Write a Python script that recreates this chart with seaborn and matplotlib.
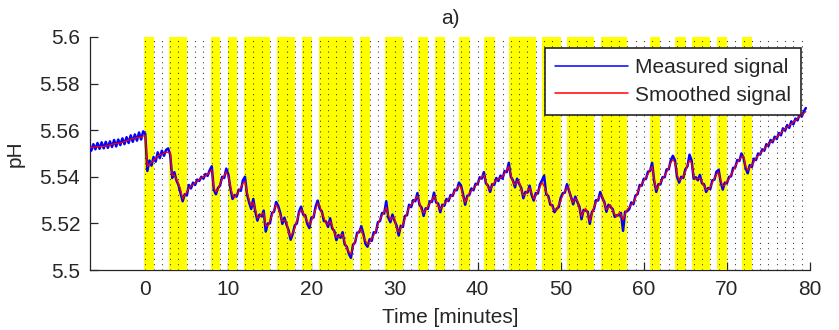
import numpy as np
import pandas as pd
import matplotlib
matplotlib.use("Agg")
import matplotlib.pyplot as plt
import seaborn as sns

# ---------------- data ----------------
t_start = -6.75      # first sample [minutes]
t_step = 0.25        # sampling step [minutes]

measured = [
    # -6.75 .. 0.0
    5.5535, 5.5512, 5.5540, 5.5518, 5.5545, 5.5520, 5.5548, 5.5522,
    5.5550, 5.5524, 5.5552, 5.5528, 5.5558, 5.5530, 5.5560, 5.5536,
    5.5565, 5.5540, 5.5570, 5.5545, 5.5578, 5.5550, 5.5582, 5.5555,
    5.5590, 5.5560, 5.5595, 5.5585,
    # 0.25 .. 78.0
    5.5425, 5.5470, 5.5448, 5.5485, 5.5465, 5.5505, 5.5480, 5.5512,
    5.5490, 5.5515, 5.5522, 5.5495, 5.5395, 5.5420, 5.5385, 5.5365,
    5.5330, 5.5295, 5.5325, 5.5320, 5.5365, 5.5350, 5.5375, 5.5365,
    5.5388, 5.5382, 5.5400, 5.5392, 5.5412, 5.5404, 5.5428, 5.5445,
    5.5345, 5.5325, 5.5352, 5.5362, 5.5400, 5.5395, 5.5435, 5.5410,
    5.5350, 5.5305, 5.5322, 5.5315, 5.5345, 5.5340, 5.5385, 5.5400,
    5.5325, 5.5290, 5.5262, 5.5305, 5.5250, 5.5212, 5.5238, 5.5230,
    5.5255, 5.5165, 5.5200, 5.5200, 5.5245, 5.5250, 5.5292, 5.5275,
    5.5245, 5.5198, 5.5225, 5.5195, 5.5170, 5.5130, 5.5155, 5.5192,
    5.5200, 5.5250, 5.5272, 5.5238, 5.5235, 5.5198, 5.5180, 5.5225,
    5.5225, 5.5272, 5.5298, 5.5262, 5.5252, 5.5210, 5.5208, 5.5185,
    5.5222, 5.5178, 5.5168, 5.5128, 5.5150, 5.5138, 5.5162, 5.5110,
    5.5100, 5.5070, 5.5052, 5.5108, 5.5118, 5.5160, 5.5162, 5.5188,
    5.5155, 5.5112, 5.5100, 5.5132, 5.5125, 5.5162, 5.5160, 5.5205,
    5.5210, 5.5245, 5.5242, 5.5295, 5.5225, 5.5205, 5.5238, 5.5212,
    5.5190, 5.5148, 5.5190, 5.5185, 5.5232, 5.5235, 5.5280, 5.5270,
    5.5300, 5.5295, 5.5330, 5.5280, 5.5268, 5.5232, 5.5265, 5.5262,
    5.5295, 5.5292, 5.5332, 5.5290, 5.5285, 5.5248, 5.5280, 5.5276,
    5.5305, 5.5296, 5.5322, 5.5318, 5.5345, 5.5342, 5.5375, 5.5362,
    5.5325, 5.5280, 5.5318, 5.5322, 5.5350, 5.5342, 5.5370, 5.5368,
    5.5398, 5.5392, 5.5420, 5.5372, 5.5362, 5.5335, 5.5368, 5.5365,
    5.5395, 5.5382, 5.5405, 5.5392, 5.5425, 5.5420, 5.5460, 5.5400,
    5.5385, 5.5355, 5.5392, 5.5370, 5.5352, 5.5308, 5.5335, 5.5332,
    5.5362, 5.5322, 5.5298, 5.5330, 5.5328, 5.5368, 5.5385, 5.5405,
    5.5325, 5.5318, 5.5280, 5.5278, 5.5248, 5.5262, 5.5270, 5.5310,
    5.5330, 5.5332, 5.5368, 5.5340, 5.5312, 5.5282, 5.5315, 5.5292,
    5.5272, 5.5218, 5.5258, 5.5255, 5.5250, 5.5198, 5.5248, 5.5262,
    5.5300, 5.5298, 5.5335, 5.5310, 5.5292, 5.5250, 5.5280, 5.5270,
    5.5262, 5.5228, 5.5235, 5.5235, 5.5245, 5.5168, 5.5250, 5.5252,
    5.5262, 5.5290, 5.5282, 5.5320, 5.5325, 5.5365, 5.5362, 5.5392,
    5.5390, 5.5422, 5.5425, 5.5460, 5.5382, 5.5335, 5.5368, 5.5368,
    5.5398, 5.5398, 5.5432, 5.5432, 5.5472, 5.5490, 5.5470, 5.5400,
    5.5375, 5.5400, 5.5395, 5.5432, 5.5445, 5.5495, 5.5470, 5.5392,
    5.5398, 5.5385, 5.5408, 5.5372, 5.5368, 5.5335, 5.5352, 5.5348,
    5.5385, 5.5388, 5.5422, 5.5430, 5.5378, 5.5345, 5.5375, 5.5372,
    5.5400, 5.5402, 5.5438, 5.5440, 5.5472, 5.5468, 5.5500, 5.5482,
    5.5438, 5.5415, 5.5450, 5.5442, 5.5478, 5.5472, 5.5500, 5.5495,
    5.5518, 5.5512, 5.5540, 5.5532, 5.5558, 5.5548, 5.5572, 5.5562,
    5.5588, 5.5578, 5.5608, 5.5598, 5.5622, 5.5610, 5.5638, 5.5625,
    # 78.25 .. 79.5
    5.5650, 5.5642, 5.5668, 5.5658, 5.5680, 5.5695,
]

smoothed = [
    # -6.75 .. 0.0
    5.5525, 5.5525, 5.5527, 5.5528, 5.5530, 5.5530, 5.5530, 5.5530,
    5.5532, 5.5535, 5.5537, 5.5540, 5.5541, 5.5543, 5.5544, 5.5545,
    5.5548, 5.5552, 5.5555, 5.5558, 5.5562, 5.5565, 5.5566, 5.5568,
    5.5569, 5.5570, 5.5575, 5.5578,
    # 0.25 .. 78.0
    5.5445, 5.5455, 5.5462, 5.5470, 5.5480, 5.5490, 5.5494, 5.5498,
    5.5502, 5.5505, 5.5505, 5.5505, 5.5405, 5.5408, 5.5390, 5.5370,
    5.5345, 5.5305, 5.5320, 5.5335, 5.5352, 5.5360, 5.5366, 5.5373,
    5.5380, 5.5390, 5.5395, 5.5400, 5.5405, 5.5410, 5.5420, 5.5430,
    5.5355, 5.5335, 5.5345, 5.5370, 5.5390, 5.5405, 5.5422, 5.5400,
    5.5360, 5.5320, 5.5310, 5.5325, 5.5337, 5.5355, 5.5372, 5.5380,
    5.5335, 5.5300, 5.5275, 5.5290, 5.5260, 5.5222, 5.5228, 5.5240,
    5.5245, 5.5190, 5.5190, 5.5210, 5.5235, 5.5260, 5.5280, 5.5265,
    5.5235, 5.5210, 5.5215, 5.5205, 5.5160, 5.5145, 5.5160, 5.5180,
    5.5212, 5.5240, 5.5260, 5.5248, 5.5227, 5.5210, 5.5192, 5.5210,
    5.5235, 5.5260, 5.5285, 5.5275, 5.5245, 5.5225, 5.5200, 5.5195,
    5.5210, 5.5190, 5.5160, 5.5140, 5.5143, 5.5148, 5.5153, 5.5120,
    5.5095, 5.5078, 5.5068, 5.5100, 5.5125, 5.5150, 5.5170, 5.5175,
    5.5145, 5.5125, 5.5110, 5.5120, 5.5135, 5.5150, 5.5170, 5.5195,
    5.5218, 5.5235, 5.5250, 5.5270, 5.5235, 5.5215, 5.5225, 5.5222,
    5.5180, 5.5162, 5.5180, 5.5195, 5.5220, 5.5245, 5.5268, 5.5280,
    5.5292, 5.5305, 5.5318, 5.5290, 5.5255, 5.5245, 5.5258, 5.5270,
    5.5285, 5.5300, 5.5318, 5.5300, 5.5275, 5.5260, 5.5272, 5.5284,
    5.5295, 5.5304, 5.5313, 5.5325, 5.5338, 5.5350, 5.5362, 5.5355,
    5.5315, 5.5290, 5.5310, 5.5330, 5.5340, 5.5350, 5.5360, 5.5375,
    5.5388, 5.5400, 5.5408, 5.5380, 5.5355, 5.5345, 5.5360, 5.5375,
    5.5386, 5.5390, 5.5395, 5.5400, 5.5415, 5.5430, 5.5445, 5.5410,
    5.5375, 5.5365, 5.5380, 5.5380, 5.5345, 5.5320, 5.5325, 5.5340,
    5.5352, 5.5330, 5.5305, 5.5320, 5.5336, 5.5355, 5.5376, 5.5360,
    5.5335, 5.5310, 5.5288, 5.5270, 5.5258, 5.5255, 5.5280, 5.5298,
    5.5320, 5.5340, 5.5355, 5.5350, 5.5305, 5.5290, 5.5305, 5.5300,
    5.5265, 5.5230, 5.5250, 5.5265, 5.5245, 5.5210, 5.5240, 5.5270,
    5.5290, 5.5305, 5.5320, 5.5320, 5.5285, 5.5260, 5.5270, 5.5280,
    5.5255, 5.5240, 5.5228, 5.5245, 5.5238, 5.5215, 5.5240, 5.5260,
    5.5270, 5.5280, 5.5290, 5.5310, 5.5333, 5.5355, 5.5370, 5.5383,
    5.5397, 5.5410, 5.5430, 5.5445, 5.5390, 5.5345, 5.5360, 5.5375,
    5.5390, 5.5405, 5.5420, 5.5440, 5.5460, 5.5475, 5.5460, 5.5410,
    5.5385, 5.5390, 5.5402, 5.5420, 5.5450, 5.5470, 5.5460, 5.5400,
    5.5390, 5.5392, 5.5395, 5.5380, 5.5360, 5.5345, 5.5345, 5.5355,
    5.5375, 5.5395, 5.5410, 5.5420, 5.5385, 5.5360, 5.5365, 5.5380,
    5.5390, 5.5410, 5.5425, 5.5445, 5.5460, 5.5475, 5.5485, 5.5490,
    5.5445, 5.5428, 5.5440, 5.5450, 5.5465, 5.5480, 5.5490, 5.5500,
    5.5510, 5.5520, 5.5530, 5.5540, 5.5550, 5.5555, 5.5563, 5.5570,
    5.5580, 5.5588, 5.5598, 5.5606, 5.5614, 5.5620, 5.5628, 5.5635,
    # 78.25 .. 79.5
    5.5642, 5.5650, 5.5658, 5.5665, 5.5672, 5.5680,
]

# stimulus periods (yellow bands) [minutes]
band_starts = [-0.1, 2.9, 7.9, 9.9, 11.9, 15.9, 18.85, 20.85, 25.85, 28.85,
               32.85, 34.85, 37.8, 40.8, 43.8, 47.8, 50.8, 54.8, 60.8, 63.8,
               65.8, 68.8, 71.8]
band_ends = [1.1, 5.05, 9.05, 11.05, 15.0, 18.0, 20.05, 25.05, 27.0, 31.05,
             34.05, 36.05, 39.05, 42.05, 47.0, 50.0, 54.0, 58.0, 62.0, 65.05,
             68.0, 70.0, 73.0]

x_ticks = [0, 10, 20, 30, 40, 50, 60, 70, 80]
y_ticks = [5.5, 5.52, 5.54, 5.56, 5.58, 5.6]
y_tick_labels = ["5.5", "5.52", "5.54", "5.56", "5.58", "5.6"]

time = t_start + t_step * np.arange(len(measured))
df = pd.DataFrame({"time": time, "measured": measured,
                   "smoothed": smoothed[:len(measured)]})

# ---------------- plotting ----------------
sns.set_theme(style="ticks")
plt.rcParams["font.family"] = ["Liberation Sans", "DejaVu Sans"]

fig = plt.figure(figsize=(8.39, 3.30), dpi=100)
ax = fig.add_axes([90 / 839, 60 / 330, 720 / 839, 233 / 330])

for s, e in zip(band_starts, band_ends):
    ax.axvspan(s, e, color="#FFFF00", lw=0, zorder=1)

ax.vlines(np.arange(0, 81), 5.5, 5.6, colors="#333333",
          linestyles=[(0, (1, 4.1))], linewidth=0.75, zorder=1.5)

sns.lineplot(data=df, x="time", y="measured", color="#0000FF", lw=1.8,
             ax=ax, zorder=3, label="Measured signal", estimator=None)
sns.lineplot(data=df, x="time", y="smoothed", color="#FF0000", lw=0.9,
             ax=ax, zorder=4, label="Smoothed signal", estimator=None)

ax.set_xlim(-6.65, 80)
ax.set_ylim(5.5, 5.6)
ax.set_xticks(x_ticks)
ax.set_yticks(y_ticks)
ax.set_yticklabels(y_tick_labels)
ax.set_axisbelow(True)
for side in ["top", "right"]:
    ax.spines[side].set_visible(False)
for side in ["left", "bottom"]:
    ax.spines[side].set_color("#262626")
    ax.spines[side].set_linewidth(0.9)
    ax.spines[side].set_zorder(0.6)
ax.tick_params(direction="in", length=6, width=0.9, labelsize=15,
               colors="#262626")
ax.tick_params(axis="x", pad=7)
ax.tick_params(axis="y", pad=7)

ax.set_xlabel("Time [minutes]", fontsize=15, color="#262626", labelpad=7)
ax.set_ylabel("pH", fontsize=15, color="#262626", labelpad=11)
ax.set_title("a)", fontsize=15, color="#262626", pad=9)

leg = ax.legend(loc="upper right", bbox_to_anchor=(0.9875, 0.9528),
                borderaxespad=0, fontsize=15, frameon=True, fancybox=False,
                framealpha=1, edgecolor="#262626", handlelength=3.5,
                handletextpad=0.3, borderpad=0.5, labelspacing=0.4)
leg.get_frame().set_linewidth(1.2)
for h in leg.get_lines():
    h.set_linewidth(1.1)
leg.set_zorder(10)

fig.savefig("out.png", dpi=100)
